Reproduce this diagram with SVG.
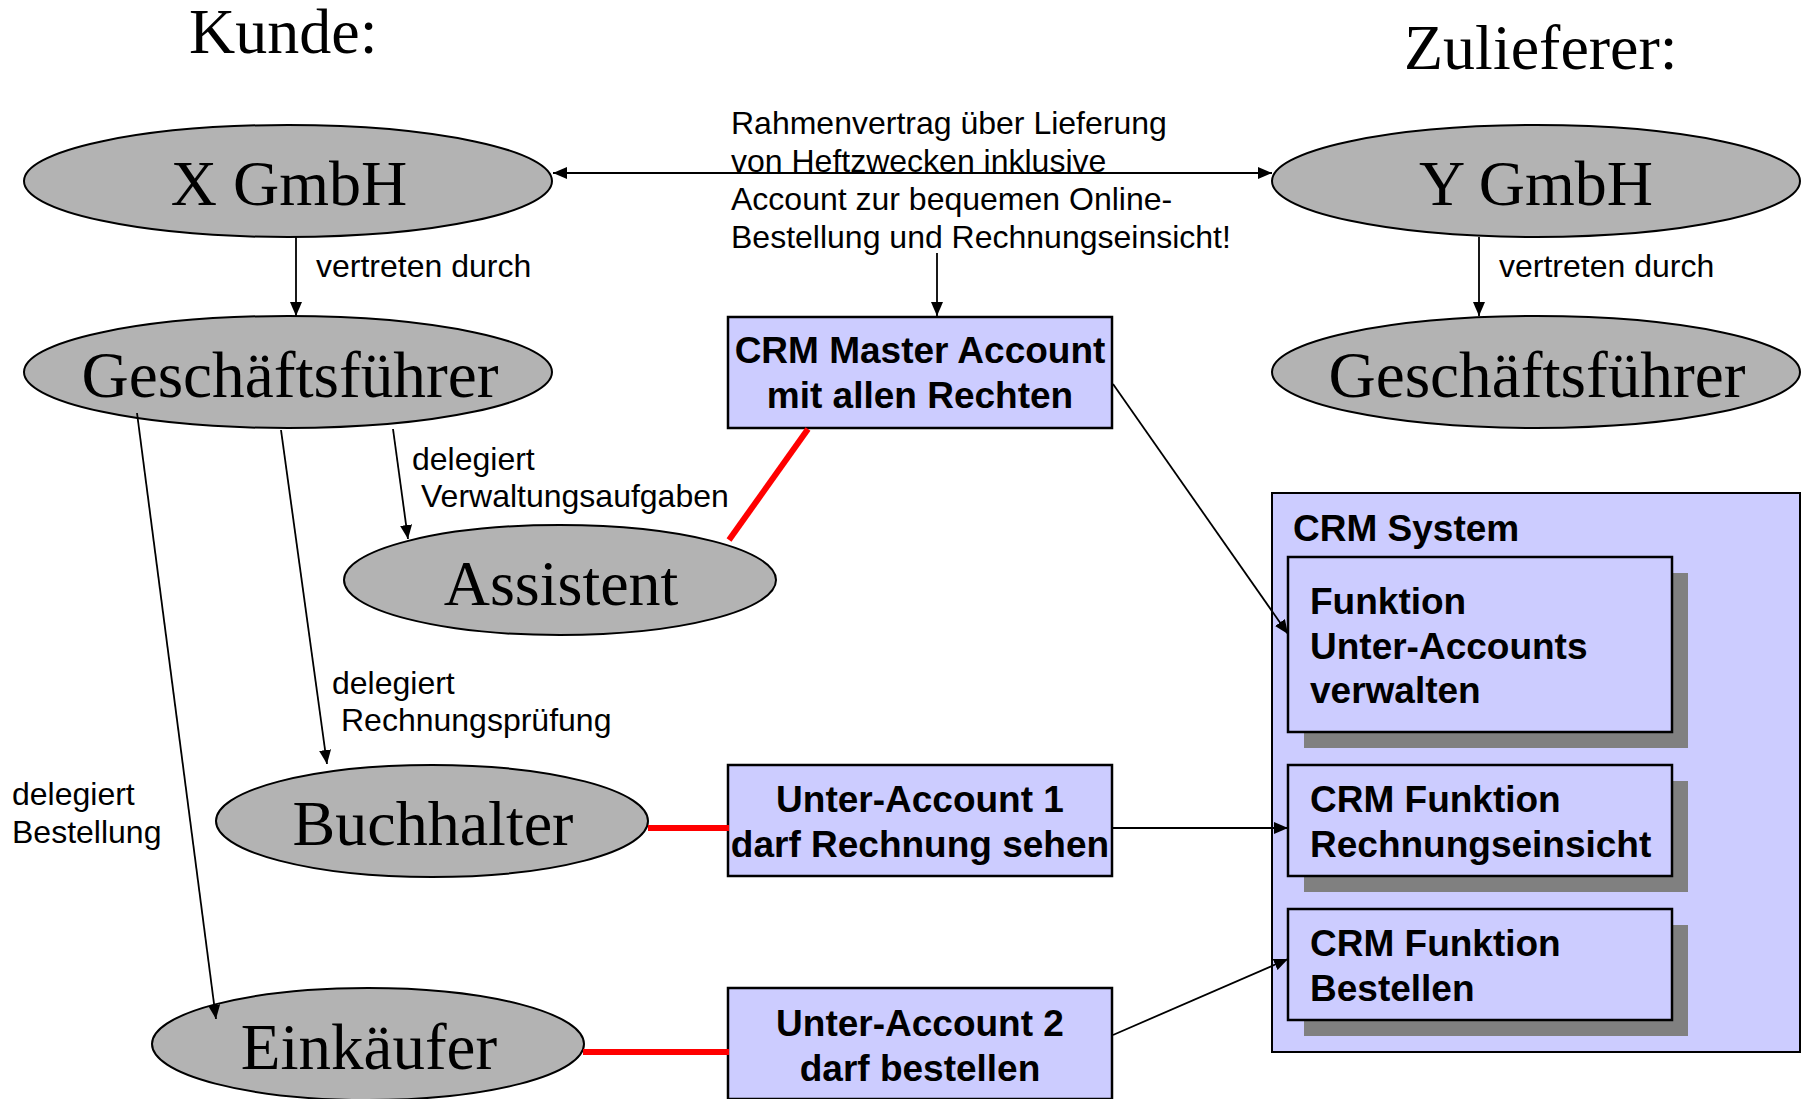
<svg xmlns="http://www.w3.org/2000/svg" width="1808" height="1099" viewBox="0 0 1808 1099">
  <style>
    .title { font-family: "Liberation Serif", "Times New Roman", serif; font-size: 64px; fill: #000; }
    .actor ellipse { fill: #b3b3b3; stroke: #000; stroke-width: 2; }
    .actor text { font-family: "Liberation Serif", "Times New Roman", serif; font-size: 64px; fill: #000; text-anchor: middle; }
    .actor text.big { font-size: 65px; }
    .lbl { font-family: "Liberation Sans", Arial, sans-serif; font-size: 32px; fill: #000; }
    .acct rect { fill: #ccccff; stroke: #000; stroke-width: 2.5; }
    .acct text, .sys text { font-family: "Liberation Sans", Arial, sans-serif; font-size: 37px; font-weight: bold; fill: #000; }
    .acct text { text-anchor: middle; }
    .sys rect.frame { fill: #ccccff; stroke: #000; stroke-width: 2; }
    .sys rect.shadow { fill: #808080; stroke: none; }
    .sys rect.fn { fill: #ccccff; stroke: #000; stroke-width: 2.5; }
    .edge { stroke: #000; stroke-width: 1.8; fill: none; }
    .link { stroke: #ff0000; stroke-width: 6; fill: none; }
  </style>
  <defs>
    <marker id="arrow" markerUnits="userSpaceOnUse" markerWidth="14" markerHeight="12" refX="14" refY="6" orient="auto-start-reverse">
      <path d="M0,0 L14,6 L0,12 z" fill="#000"/>
    </marker>
  </defs>

  <rect width="1808" height="1099" fill="#fff"/>

  <!-- column headings -->
  <text class="title" x="189" y="53">Kunde:</text>
  <text class="title" x="1404" y="69">Zulieferer:</text>

  <!-- CRM system with its functions -->
  <g id="crm-system" class="sys">
    <rect class="frame" x="1272" y="493" width="528" height="559"/>
    <text x="1293" y="541">CRM System</text>
  </g>
  <g id="fn-subaccounts" class="sys">
    <rect class="shadow" x="1304" y="573" width="384" height="175"/>
    <rect class="fn" x="1288" y="557" width="384" height="175"/>
    <text x="1310" y="614">Funktion</text>
    <text x="1310" y="659">Unter-Accounts</text>
    <text x="1310" y="703">verwalten</text>
  </g>
  <g id="fn-invoices" class="sys">
    <rect class="shadow" x="1304" y="781" width="384" height="111"/>
    <rect class="fn" x="1288" y="765" width="384" height="111"/>
    <text x="1310" y="812">CRM Funktion</text>
    <text x="1310" y="857">Rechnungseinsicht</text>
  </g>
  <g id="fn-order" class="sys">
    <rect class="shadow" x="1304" y="925" width="384" height="111"/>
    <rect class="fn" x="1288" y="909" width="384" height="111"/>
    <text x="1310" y="956">CRM Funktion</text>
    <text x="1310" y="1001">Bestellen</text>
  </g>

  <!-- customer side -->
  <g id="x-gmbh" class="actor">
    <ellipse cx="288" cy="181" rx="264" ry="56"/>
    <text x="289" y="205">X GmbH</text>
  </g>
  <g id="x-gf" class="actor">
    <ellipse cx="288" cy="372" rx="264" ry="56"/>
    <text class="big" x="290" y="397" textLength="417" lengthAdjust="spacingAndGlyphs">Geschäftsführer</text>
  </g>
  <g id="assistent" class="actor">
    <ellipse cx="560" cy="580" rx="216" ry="55"/>
    <text x="561" y="605">Assistent</text>
  </g>
  <g id="buchhalter" class="actor">
    <ellipse cx="432" cy="821" rx="216" ry="56"/>
    <text x="433" y="845">Buchhalter</text>
  </g>
  <g id="einkaeufer" class="actor">
    <ellipse cx="368" cy="1044" rx="216" ry="56"/>
    <text class="big" x="369" y="1069">Einkäufer</text>
  </g>

  <!-- supplier side -->
  <g id="y-gmbh" class="actor">
    <ellipse cx="1536" cy="181" rx="264" ry="56"/>
    <text x="1536" y="205">Y GmbH</text>
  </g>
  <g id="y-gf" class="actor">
    <ellipse cx="1536" cy="372" rx="264" ry="56"/>
    <text class="big" x="1537" y="397" textLength="417" lengthAdjust="spacingAndGlyphs">Geschäftsführer</text>
  </g>

  <!-- accounts -->
  <g id="master-account" class="acct">
    <rect x="728" y="317" width="384" height="111"/>
    <text x="920" y="363">CRM Master Account</text>
    <text x="920" y="408">mit allen Rechten</text>
  </g>
  <g id="sub-account-1" class="acct">
    <rect x="728" y="765" width="384" height="111"/>
    <text x="920" y="812">Unter-Account 1</text>
    <text x="920" y="857">darf Rechnung sehen</text>
  </g>
  <g id="sub-account-2" class="acct">
    <rect x="728" y="988" width="384" height="111"/>
    <text x="920" y="1036">Unter-Account 2</text>
    <text x="920" y="1081">darf bestellen</text>
  </g>

  <!-- contract note -->
  <g id="contract-note" class="lbl">
    <text class="lbl" x="731" y="134">Rahmenvertrag über Lieferung</text>
    <text class="lbl" x="731" y="172">von Heftzwecken inklusive</text>
    <text class="lbl" x="731" y="210">Account zur bequemen Online-</text>
    <text class="lbl" x="731" y="248">Bestellung und Rechnungseinsicht!</text>
  </g>

  <!-- connectors -->
  <g id="connectors">
    <line class="edge" x1="553" y1="173" x2="1272" y2="173" marker-start="url(#arrow)" marker-end="url(#arrow)"/>
    <line class="edge" x1="296" y1="237" x2="296" y2="316" marker-end="url(#arrow)"/>
    <line class="edge" x1="1479" y1="237" x2="1479" y2="316" marker-end="url(#arrow)"/>
    <line class="edge" x1="937" y1="253" x2="937" y2="316" marker-end="url(#arrow)"/>
    <line class="edge" x1="393" y1="429" x2="408" y2="539" marker-end="url(#arrow)"/>
    <line class="edge" x1="281" y1="430" x2="327" y2="764" marker-end="url(#arrow)"/>
    <line class="edge" x1="137" y1="413" x2="216" y2="1019" marker-end="url(#arrow)"/>
    <line class="edge" x1="1113" y1="384" x2="1288" y2="634" marker-end="url(#arrow)"/>
    <line class="edge" x1="1113" y1="828" x2="1288" y2="828" marker-end="url(#arrow)"/>
    <line class="edge" x1="1113" y1="1035" x2="1288" y2="959" marker-end="url(#arrow)"/>
    <line class="link" x1="729" y1="540" x2="808" y2="429"/>
    <line class="link" x1="648" y1="828" x2="729" y2="828"/>
    <line class="link" x1="583" y1="1052" x2="729" y2="1052"/>
  </g>

  <!-- connector labels -->
  <g id="edge-labels">
    <text class="lbl" x="316" y="277">vertreten durch</text>
    <text class="lbl" x="1499" y="277">vertreten durch</text>
    <text class="lbl" x="412" y="470">delegiert</text>
    <text class="lbl" x="421" y="507">Verwaltungsaufgaben</text>
    <text class="lbl" x="332" y="694">delegiert</text>
    <text class="lbl" x="341" y="731">Rechnungsprüfung</text>
    <text class="lbl" x="12" y="805">delegiert</text>
    <text class="lbl" x="12" y="843">Bestellung</text>
  </g>
</svg>
